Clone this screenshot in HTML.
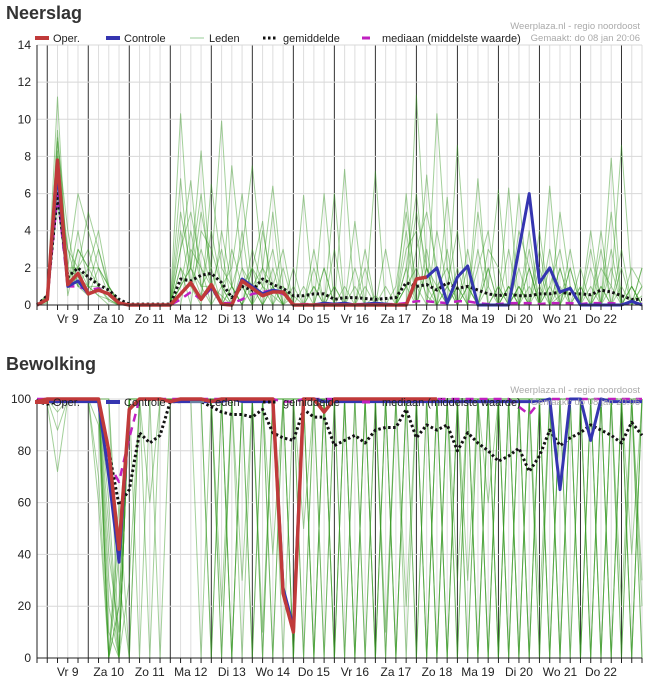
<!DOCTYPE html>
<html><head><meta charset="utf-8"><style>
html,body{margin:0;padding:0;background:#fff;}
svg{display:block;font-family:"Liberation Sans",sans-serif;}
</style></head><body>
<svg id="c" width="651" height="688"></svg>
<script>
// ---- shared time axis ----
const dayLabels=["Vr 9","Za 10","Zo 11","Ma 12","Di 13","Wo 14","Do 15","Vr 16","Za 17","Zo 18","Ma 19","Di 20","Wo 21","Do 22"];
// ---- Neerslag ----
const rainTicks=[0,2,4,6,8,10,12,14];
const rainOper=[0,0.3,7.8,1.1,1.7,0.6,0.8,0.6,0.1,0,0,0,0,0,0.6,1.2,0.3,1.1,0.05,0,1.3,0.9,0.5,0.7,0.7,0,0,0,0,0,0,0,0,0,0,0,0,1.4,1.5];
const rainCtrl=[0,0.3,7.2,1.0,1.3,0.6,0.8,0.6,0.1,0,0,0,0,0,0.6,1.2,0.3,1.0,0.05,0,1.4,1.0,0.6,0.8,0.7,0,0,0,0.1,0.05,0.1,0,0.05,0.1,0.05,0,0,1.4,1.5,2.0,0.1,1.5,2.1,0,0,0,0,3.0,6.0,1.2,2.0,0.7,0.9,0,0,0,0,0,0.2,0];
const rainMean=[0,0.5,6.0,1.5,2.0,1.5,1.1,0.8,0.3,0.05,0.05,0.05,0.05,0.05,1.4,1.3,1.6,1.7,1.2,0.4,1.0,0.8,1.4,1.1,0.9,0.5,0.5,0.6,0.6,0.3,0.4,0.4,0.35,0.3,0.35,0.4,1.2,1.0,1.1,0.8,1.2,0.9,1.0,0.8,0.6,0.5,0.6,0.5,0.5,0.6,0.6,0.7,0.6,0.6,0.55,0.8,0.7,0.5,0.3,0.3];
const rainMed=[0,0.3,6.0,1.0,1.0,0.8,0.9,0.6,0.1,0,0,0,0,0,0.3,0.7,0.3,0.9,0.1,0.1,0.3,0.6,0.7,0.8,0.6,0.05,0.05,0.05,0.05,0.05,0.05,0.05,0.05,0.05,0.05,0.05,0.1,0.2,0.2,0.15,0.1,0.2,0.2,0.1,0.05,0.05,0.1,0.1,0.1,0.05,0.1,0.1,0.1,0.05,0.1,0.1,0.1,0.05,0.1,0.05];
const rainMembers=[
"0 0.5 11.2 1 3 2 1 0.5 0 0 0 0 0 0 10.3 2 0.5 4 1 0 2 0 1 0.5 0 0 0 1 0 0 0 0 0 0 0 0 1 2 0.5 0 1 0 3 0 0 0 1 0 0 2 0 0.5 1 0 0 1 0 3 0 0.5",
"0 0.2 9.4 2 6 4 2 1 0 0 0 0 0 0 3 6.7 1 2 0 1 3 7.5 2 1 0 0.5 0 0 0 1 0 0 2 0 0 0 0 11.3 2 0 1 4 0 0 2 0 0 6 0 1 0 0 2 0 0 0 7.9 0 1 0",
"0 0.4 8.0 1.5 2 5 3 1 0.2 0 0 0 0 0 1 2 8.3 1 3 0 1 0 2 6.4 1 0 0 0 6.0 0 0 0 0 0 0 1 5 1 0 10.3 2 0 0 5 1 0 0 2 0 0 3 0 1 0 0 2 1 8.6 1 0",
"0 0.6 6.5 3 1 0.5 2 0.5 0 0 0 0 0 0 6.8 1 5 2 9.9 1 0 3 1 0 2 0 1 0 0 0 7.3 0 1 0 0 0 2 6 1 0 0 8.6 1 0 0 0 6.3 0 2 0 0 5 1 0 4 0 0 1 0 2",
"0 0.3 7.5 1 4 1 3 0.8 0 0 0 0 0 0 4 1 3 1 0 7.5 2 1 0 5 0 0 0 1 0 6 0 0 0 0.5 0 0 0 1 7 1 2 0 0 3 0 1 0 4 2 0 6.4 0 0 1 0 0 5 0 1 0",
"0 0.5 9.0 2 2 3 1 0.3 0 0 0 0 0 0 2 1 0 6.5 2 1 0 2 4.5 0 1 0 5.9 0 0 0 0 0 0 7.2 0 0 4 0 2 1 0 0 0 6.8 0 0 3 0 1 0 0 2 0 1 0 3 0 0 2 1",
"0 0.1 5.5 1 1.5 1 0.5 0.3 0 0 0 0 0 0 1 4 1 1 0.5 0 1 2 0 1 3 0 0 0 2 0 0 0 0 0 0 0 6 0 3 0 5.8 0 2 0 0 1 0 0 4 0 2 0 0 0 0 4 0 0 0 0",
"0 0.4 8.8 4 1 2 4 1 0 0 0 0 0 0 5 2 1 0 1 2 6 1 0 2 0 0 0 0 0 3 0 4.5 0 0 0 0 3 4 0 1 0 2 0 0 1 6.2 0 1 0 3 0 0 2 0 1 0 0 0 0 2",
"0 0.2 6.0 1 2 1 1 0.5 0 0 0 0 0 0 0 3 2 1 0 1 0 1 2 0 0 0 0 0 0 0 0 0 0 0 0 0 1 0 2 0 0 1 0 0 0 0 1 0 3 0 0 1 0 0 3 0 1 0 0 0",
"0 0.3 7.0 0.5 3 2 2 1 0.1 0 0 0 0 0 2 0 4 3 1 0 4 0 0 1 0 0 0 2 0 0 0 1 0 0 0 0 2 0 0 4 1 0 1 0 2 0 0 1 0 0 1 0 3 0 0 0 2 0 0 1",
"0 0.4 8.3 2 1 1 0.5 0 0 0 0 0 0 0 3 5 2 0 4 1 0 2 1 3 0 1 0 0 2 0 1 0 3 0 1 0 0 3 5 2 0 1 0 2 4 0 1 0 2 0 1 3 0 2 0 1 0 2 0 1",
"0 0.2 7.8 3 2 0.5 1 0.2 0 0 0 0 0 0 1 2 6 1 0 3 1 0 4 1 0 2 0 3 0 1 0 2 0 0 3 0 1 5 2 0 3 0 1 0 3 2 0 1 0 4 0 2 0 0 2 0 3 0 1 0"
];
// ---- Bewolking ----
const cloudTicks=[0,20,40,60,80,100];
const cloudOper=[99,100,100,100,100,100,100,80,42,96,100,100,100,99,100,100,100,99,100,100,100,100,100,100,25,10,100,100,95,100,100,100,100,100,100,100,100,100,100,100];
const cloudCtrl=[99,99,99,99,99,99,99,70,37,96,100,100,100,99,99,99,99,99,99,100,99,99,99,99,27,12,100,100,99,99,99,99,99,99,99,99,99,99,99,99,99,99,99,99,99,99,99,99,99,99,100,65,100,100,84,100,99,99,99,99];
const cloudMean=[99,98,99,100,100,100,99,80,59,65,87,83,86,99,99,100,99,97,95,94,94,93,96,87,85,84,96,93,93,82,84,86,83,88,89,89,96,85,90,88,90,80,87,83,80,76,78,81,72,78,88,82,85,87,90,88,86,83,91,86];
const cloudMed=[100,100,100,100,100,100,100,75,68,85,100,100,100,100,100,100,100,100,100,100,100,100,100,100,99,99,100,100,100,100,100,100,100,100,100,100,100,100,100,100,100,100,100,100,100,100,100,97,94,99,100,100,100,100,100,100,100,100,100,100];
const cloudMembers=[
"100 100 95 100 100 100 60 0 20 100 100 100 100 100 100 100 100 100 20 100 100 100 0 100 100 100 50 100 100 0 100 100 100 100 10 100 100 0 100 100 100 100 30 100 100 0 100 100 100 20 100 100 100 0 100 100 100 100 40 100",
"100 98 72 100 100 100 100 30 0 100 100 60 100 100 100 100 100 0 100 100 100 100 100 40 100 0 100 100 100 100 100 0 100 100 100 100 20 100 100 100 0 100 100 100 100 100 0 100 100 100 100 0 100 100 100 100 0 100 100 100",
"100 100 88 100 100 100 100 0 60 0 100 100 100 100 100 100 100 100 100 0 100 100 100 100 100 100 100 0 100 100 100 100 0 100 100 100 100 100 0 100 100 30 100 100 0 100 100 100 0 100 100 100 100 100 0 100 100 20 100 100",
"100 100 100 100 100 100 100 40 10 100 0 100 100 100 100 100 100 100 100 100 30 100 0 100 100 100 100 100 100 100 0 100 100 100 100 0 100 100 100 0 100 100 100 100 60 100 100 0 100 100 0 100 100 100 100 100 100 0 100 100",
"100 100 100 100 100 100 90 0 0 100 100 100 0 100 100 100 100 100 100 100 100 0 100 100 100 100 0 100 100 100 100 100 100 0 100 100 100 100 100 100 0 100 100 0 100 100 100 100 0 100 100 100 0 100 100 100 100 100 100 0",
"100 100 100 100 100 100 100 100 30 0 100 100 100 100 100 100 100 0 100 100 100 100 100 0 100 100 100 100 0 100 100 100 100 100 0 100 100 100 100 100 100 0 100 100 100 0 100 100 100 100 0 100 100 100 0 100 100 100 0 100",
"100 100 100 100 100 100 100 10 0 100 100 100 100 100 100 100 100 100 100 0 100 100 100 100 100 0 100 100 100 0 100 100 100 0 100 100 0 100 100 100 100 100 0 100 100 100 100 0 100 100 100 100 100 0 100 0 100 100 100 20",
"100 100 100 100 100 100 70 0 40 100 100 100 100 100 100 100 100 100 0 100 100 100 100 100 0 100 100 0 100 100 100 0 100 100 100 100 100 0 100 100 100 100 100 0 100 100 0 100 100 100 100 100 0 100 100 100 0 100 100 100",
"100 100 100 100 100 100 100 50 0 100 100 0 100 100 100 100 0 100 100 100 100 100 100 100 100 100 100 100 100 0 100 100 0 100 100 100 100 100 100 0 100 100 100 100 100 0 100 100 100 0 100 100 100 100 0 100 100 100 100 0",
"100 100 100 100 100 100 100 0 50 100 100 100 100 100 100 100 100 100 100 100 100 0 100 100 100 0 100 100 100 100 100 100 100 100 100 0 100 100 0 100 100 100 0 100 100 100 100 0 100 100 0 100 100 0 100 100 100 100 0 100",
"100 100 100 100 100 100 100 20 0 100 100 100 100 100 100 100 100 100 100 100 0 100 100 100 100 100 100 100 0 100 100 100 100 100 100 0 100 100 100 100 100 0 100 100 0 100 100 100 100 100 100 0 100 100 100 0 100 100 0 100",
"100 100 100 100 100 100 100 100 0 30 100 100 100 100 100 100 100 100 0 100 100 100 100 0 100 100 100 100 100 100 0 100 100 100 0 100 100 100 100 0 100 100 100 100 100 100 0 100 100 0 100 100 100 100 100 100 0 100 100 100",
"100 100 100 100 100 100 100 60 0 100 100 100 100 100 100 100 100 100 100 100 100 100 10 100 100 100 100 0 100 100 100 100 100 0 100 100 100 100 0 100 100 100 100 0 100 100 100 100 100 100 100 0 100 100 100 100 100 0 100 100",
"100 100 100 100 100 100 100 0 20 100 100 100 100 100 100 100 100 100 100 0 100 100 100 100 100 100 0 100 100 100 100 0 100 100 100 100 100 100 100 100 0 100 100 100 0 100 100 100 0 100 100 100 100 100 100 0 100 100 100 30"
];

const NS="http://www.w3.org/2000/svg";
const svg=document.getElementById('c');
function el(tag,attrs,parent){const e=document.createElementNS(NS,tag);for(const k in attrs)e.setAttribute(k,attrs[k]);(parent||svg).appendChild(e);return e;}
const X0=37,X1=642,STEPS=59;
function xs(i){return X0+i*(X1-X0)/STEPS;}

function drawChart(cfg){
  const g=el('g',{});
  
  
  const ymax=cfg.ticks[cfg.ticks.length-1];
  const ys=v=>cfg.yb-(v/ymax)*(cfg.yb-cfg.yt);
  const t=el('text',{x:6,y:cfg.titleY,'font-size':18,'font-weight':'bold',fill:'#333'},g);
  t.textContent=cfg.title;
  
  
  for(let i=1;i<=STEPS;i++){
    const dark=(i-1)%4===0;
    const l=el('line',{x1:xs(i),x2:xs(i),y1:cfg.yt,y2:cfg.yb,stroke:dark?'#333':'#ddd','stroke-width':1},g);
    
    
  }
  cfg.ticks.forEach(v=>{
    const l=el('line',{x1:X0,x2:X1,y1:ys(v),y2:ys(v),stroke:'#d8d8d8','stroke-width':1},g);
    
    
    const tx=el('text',{x:31,y:ys(v)+4,'font-size':12,'text-anchor':'end',fill:'#222'},g);
    tx.textContent=v;
    
    
  });
  function path(arr,style,name){
    let d='';arr.forEach((v,i)=>{d+=(i?'L':'M')+xs(i).toFixed(1)+' '+ys(v).toFixed(1);});
    const p=el('path',Object.assign({d:d,fill:'none','stroke-linejoin':'round'},style),g);
    
    
  }
  cfg.members.forEach(s=>path(s.split(' ').map(Number),{stroke:'rgba(50,150,30,0.45)','stroke-width':1},'member-line'));
  path(cfg.med,{stroke:'#c020c0','stroke-width':2.5,'stroke-dasharray':'8 6'},'median-line');
  path(cfg.mean,{stroke:'#111','stroke-width':3,'stroke-dasharray':'2.5 2.5'},'mean-line');
  path(cfg.ctrl,{stroke:'#3535b0','stroke-width':3},'control-line');
  path(cfg.oper,{stroke:'#c03a3a','stroke-width':3.5},'oper-line');
  const ax=el('path',{d:`M${X0} ${cfg.yt}V${cfg.yb}H${X1}`,stroke:'#222',fill:'none','stroke-width':1},g);
  
  
  for(let i=0;i<=STEPS;i++){
    const tk=el('line',{x1:xs(i),x2:xs(i),y1:cfg.yb,y2:cfg.yb+5,stroke:'#222'},g);
    
    
  }
  dayLabels.forEach((lab,d)=>{
    const tx=el('text',{x:xs(3+4*d),y:cfg.yb+18,'font-size':12,'text-anchor':'middle',fill:'#222'},g);
    tx.textContent=lab;
    
    
  });
  const ly=cfg.legY;
  const items=[
    ['Oper.',35,53,{stroke:'#c03a3a','stroke-width':4}],
    ['Controle',106,124,{stroke:'#3535b0','stroke-width':4}],
    ['Leden',190,209,{stroke:'#9c9','stroke-width':1}],
    ['gemiddelde',263,283,{stroke:'#111','stroke-width':3,'stroke-dasharray':'2.5 2.5'}],
    ['mediaan (middelste waarde)',362,382,{stroke:'#c020c0','stroke-width':3,'stroke-dasharray':'8 6'}]
  ];
  items.forEach(([lab,sx,tx0,st])=>{
    const lg=el('g',{},g);
    
    
    el('line',Object.assign({x1:sx,x2:sx+(lab==='gemiddelde'?15:14),y1:ly,y2:ly},st),lg);
    const tx=el('text',{x:tx0,y:ly+4,'font-size':11,fill:'#222'},lg);
    tx.textContent=lab;
  });
  const c1=el('text',{x:640,y:ly-9,'font-size':9.5,'text-anchor':'end',fill:'#aaa'},g);
  c1.textContent='Weerplaza.nl - regio noordoost';
  
  
  const c2=el('text',{x:640,y:ly+3,'font-size':9.5,'text-anchor':'end',fill:'#aaa'},g);
  c2.textContent='Gemaakt: do 08 jan 20:06';
  
  
}
drawChart({name:'precipitation-chart',title:'Neerslag',titleY:19,yt:45,yb:305,legY:38,ticks:rainTicks,
  oper:rainOper,ctrl:rainCtrl,mean:rainMean,med:rainMed,members:rainMembers});
drawChart({name:'cloud-cover-chart',title:'Bewolking',titleY:370,yt:399,yb:658,legY:402,ticks:cloudTicks,
  oper:cloudOper,ctrl:cloudCtrl,mean:cloudMean,med:cloudMed,members:cloudMembers});
</script>
</body></html>
